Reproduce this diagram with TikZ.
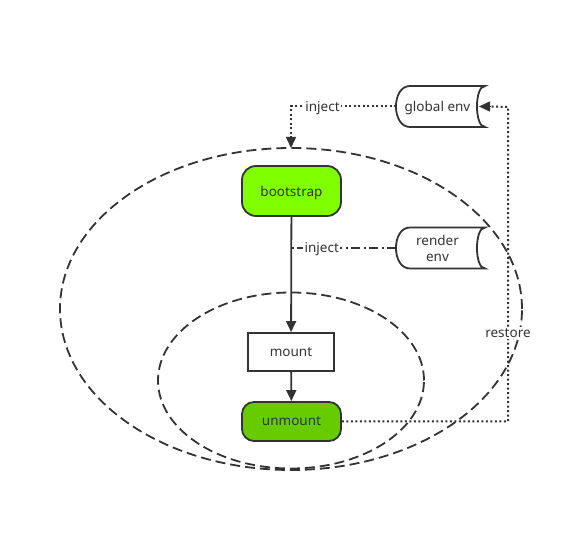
\documentclass[tikz,border=0pt]{standalone}
\usepackage{fontspec}
\setmainfont{Noto Sans}
\usetikzlibrary{arrows.meta,shapes.geometric,calc}
\definecolor{ln}{HTML}{333333}
\definecolor{gA}{HTML}{80FF00}
\definecolor{gB}{HTML}{66CC00}
\newcommand{\storedraw}[1]{%
  \draw[ln, line width=1.8pt] ($(#1.north west)+(14,0)$) -- (#1.north east)
    .. controls ($(#1.north east)+(-10.7,0)$) and ($(#1.south east)+(-10.7,0)$) .. (#1.south east)
    -- ($(#1.south west)+(14,0)$)
    .. controls ($(#1.south west)+(-4.7,0)$) and ($(#1.north west)+(-4.7,0)$) .. ($(#1.north west)+(14,0)$) -- cycle;}
\begin{document}
\begin{tikzpicture}[x=1pt,y=-1pt,line width=1.8pt,
  font=\fontsize{13.5}{16}\selectfont, text=ln,
  proc/.style={draw=ln, rounded corners=14pt, minimum width=99pt, minimum height=50pt, inner sep=0pt, text depth=0pt},
  box/.style={draw=ln, fill=white, minimum width=86pt, minimum height=38pt, inner sep=0pt, text depth=0pt},
  store/.style={minimum width=89pt, minimum height=41pt, inner sep=0pt, outer sep=0pt, align=center},
  ell/.style={ellipse, draw=ln, inner sep=0pt, outer sep=0pt, dash pattern=on 10pt off 5pt},
  arr/.style={draw=ln, -{Triangle[width=10pt,length=11pt]}},
  dotl/.style={draw=ln, line width=2pt, dash pattern=on 2pt off 2.5pt},
  dashdot/.style={draw=ln, line width=2pt, dash pattern=on 9pt off 3.5pt on 2pt off 3.5pt},
  lbl/.style={fill=white, inner sep=1.5pt, text=ln, text depth=0pt}]
\useasboundingbox (0,0) rectangle (582,534);
\node[ell, minimum width=462pt, minimum height=322pt] (outer) at (291,309) {};
\node[ell, minimum width=266pt, minimum height=176pt] (inner) at (291,380.5) {};
\node[proc, fill=gA] (boot) at (291.5,191) {bootstrap};
\node[box] (mount) at (291,352) {mount};
\node[proc, fill=gB, minimum height=39pt, rounded corners=12pt] (unm) at (291.5,421.5) {unmount};
\node[store, text depth=0pt] (genv) at (440.5,106.5) {\hspace*{-6pt}global env};
\node[store] (renv) at (440.5,248) {\hspace*{-6pt}render\\\hspace*{-6pt}env};
\storedraw{genv}
\storedraw{renv}
\coordinate (gin) at ($(genv.east)+(-6,0)$);
\coordinate (rt) at (508,107);
\draw[arr] (boot) -- (mount);
\draw[arr] (mount) -- (unm);
\draw[dotl] (genv.west) -| ($(outer.north)+(0,-9)$) node[lbl, pos=0.35] {inject};
\draw[arr, line width=1.5pt] ($(outer.north)+(0,-11)$) -- (outer.north);
\draw[dashdot] (renv.west) -- (boot.south |- renv.west) node[lbl, pos=0.71] {inject};
\draw[dotl] (unm.east) -| (rt) node[lbl, pos=0.64] {restore} -- ($(gin)+(9,0)$);
\draw[arr, line width=1.5pt] ($(gin)+(11,0)$) -- (gin);
\end{tikzpicture}
\end{document}
